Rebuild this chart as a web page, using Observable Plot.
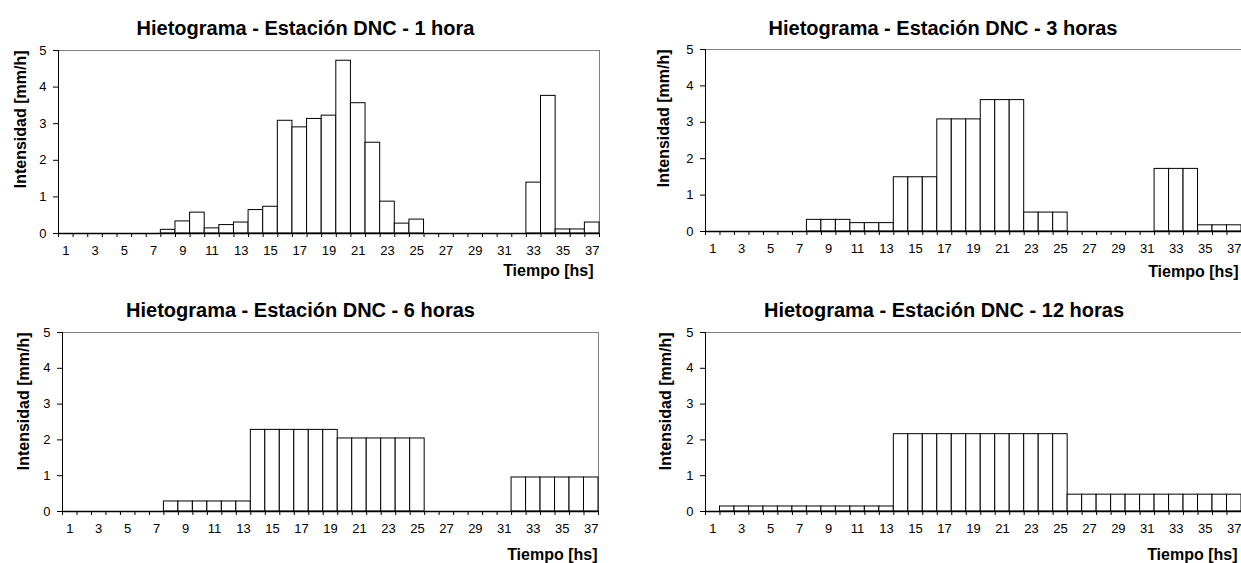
<!DOCTYPE html>
<html>
<head>
<meta charset="utf-8">
<script src="https://cdn.jsdelivr.net/npm/d3@7"></script>
<script src="https://cdn.jsdelivr.net/npm/@observablehq/plot@0.6"></script>
<style>
html, body { margin: 0; padding: 0; background: #fff; }
#chart { position: relative; width: 1241px; height: 563px; overflow: hidden; background: #fff; }
#chart > div { position: absolute; }
#chart svg { overflow: visible; }
</style>
</head>
<body>
<div id="chart"></div>
<script>
// ---- data ----
const hours = d3.range(1, 38); // time categories 1..37
const xTickLabels = [1, 3, 5, 7, 9, 11, 13, 15, 17, 19, 21, 23, 25, 27, 29, 31, 33, 35, 37];
const yTicks = [0, 1, 2, 3, 4, 5];
const titles = [
  "Hietograma - Estación DNC - 1 hora",
  "Hietograma - Estación DNC - 3 horas",
  "Hietograma - Estación DNC - 6 horas",
  "Hietograma - Estación DNC - 12 horas"
];
const yLabel = "Intensidad [mm/h]";
const xLabel = "Tiempo [hs]";

const int1h = [0, 0, 0, 0, 0, 0, 0, 0.10, 0.33, 0.57, 0.14, 0.23, 0.30, 0.64, 0.73, 3.08, 2.90, 3.13, 3.22,
  4.72, 3.56, 2.48, 0.87, 0.27, 0.38, 0, 0, 0, 0, 0, 0, 0, 1.39, 3.76, 0.11, 0.11, 0.30];
const int3h = [0, 0, 0, 0, 0, 0, 0, 0.32, 0.32, 0.32, 0.23, 0.23, 0.23, 1.49, 1.49, 1.49, 3.08, 3.08, 3.08,
  3.61, 3.61, 3.61, 0.52, 0.52, 0.52, 0, 0, 0, 0, 0, 0, 1.72, 1.72, 1.72, 0.17, 0.17, 0.17];
const int6h = [0, 0, 0, 0, 0, 0, 0, 0.28, 0.28, 0.28, 0.28, 0.28, 0.28, 2.28, 2.28, 2.28, 2.28, 2.28, 2.28,
  2.04, 2.04, 2.04, 2.04, 2.04, 2.04, 0, 0, 0, 0, 0, 0, 0.95, 0.95, 0.95, 0.95, 0.95, 0.95];
const int12h = [0, 0.14, 0.14, 0.14, 0.14, 0.14, 0.14, 0.14, 0.14, 0.14, 0.14, 0.14, 0.14, 2.16, 2.16, 2.16, 2.16,
  2.16, 2.16, 2.16, 2.16, 2.16, 2.16, 2.16, 2.16, 0.47, 0.47, 0.47, 0.47, 0.47, 0.47, 0.47, 0.47, 0.47, 0.47, 0.47, 0.47];

// ---- layout (absolute page coordinates) ----
const panels = [
  {values: int1h, title: titles[0], left: 0, top: 0, width: 620, height: 280, mL: 58, mR: 21, mT: 50, mB: 47,
   titleX: 305, titleY: 28, yLabX: 20, xLabR: 593, xLabY: 270},
  {values: int3h, title: titles[1], left: 620, top: 0, width: 621, height: 280, mL: 85, mR: 0, mT: 49, mB: 49,
   titleX: 942.5, titleY: 28.5, yLabX: 663, xLabR: 1238, xLabY: 271},
  {values: int6h, title: titles[2], left: 0, top: 280, width: 620, height: 283, mL: 62, mR: 22, mT: 52, mB: 52,
   titleX: 300, titleY: 310.5, yLabX: 23, xLabR: 597, xLabY: 554},
  {values: int12h, title: titles[3], left: 620, top: 280, width: 621, height: 283, mL: 85, mR: 0, mT: 52, mB: 52,
   titleX: 943.5, titleY: 310.5, yLabX: 665, xLabR: 1237, xLabY: 554}
];

const boundaries = hours.map(h => h - 0.5).concat([hours[hours.length - 1] + 0.5]);
const font = "'Liberation Sans', Arial, Helvetica, sans-serif";
const container = document.getElementById("chart");

for (const p of panels) {
  const data = hours.map((h, i) => ({hour: h, value: p.values[i]}));
  const fx = p.left + p.mL, fy = p.top + p.mT;
  const fr = p.left + p.width - p.mR, fb = p.top + p.height - p.mB;
  const svg = Plot.plot({
    width: p.width,
    height: p.height,
    marginLeft: p.mL, marginRight: p.mR, marginTop: p.mT, marginBottom: p.mB,
    x: {domain: [0.5, 37.5]},
    y: {domain: [0, 5]},
    style: {fontFamily: font, fontSize: "13px", color: "#000", background: "transparent", overflow: "visible"},
    marks: [
      Plot.ruleY([5], {stroke: "#808080", strokeWidth: 1}),
      Plot.ruleX([37.5], {stroke: "#808080", strokeWidth: 1}),
      Plot.rectY(data.filter(d => d.value > 0), {
        x1: d => d.hour - 0.5, x2: d => d.hour + 0.5, y1: 0, y2: "value",
        fill: "white", stroke: "black", strokeWidth: 1
      }),
      Plot.axisY({ticks: yTicks, tickSize: 5, tickPadding: 7, tickFormat: d3.format("d"), label: null, fontSize: 13}),
      Plot.axisX({ticks: boundaries, tickSize: 4, tickFormat: () => "", label: null}),
      Plot.axisX({ticks: xTickLabels, tickSize: 0, tickPadding: 12, tickFormat: d3.format("d"), label: null, fontSize: 13}),
      Plot.ruleX([0.5], {stroke: "black", strokeWidth: 1}),
      Plot.ruleY([0], {stroke: "black", strokeWidth: 1.5}),
      Plot.text([p.title], {frameAnchor: "top-left", dx: p.titleX - fx, dy: p.titleY - fy,
        fontSize: 20, fontWeight: "bold", textAnchor: "middle", lineAnchor: "middle"}),
      Plot.text([yLabel], {frameAnchor: "top-left", dx: p.yLabX - fx, dy: 0, rotate: -90,
        fontSize: 16, fontWeight: "bold", textAnchor: "end", lineAnchor: "middle"}),
      Plot.text([xLabel], {frameAnchor: "bottom-right", dx: p.xLabR - fr, dy: p.xLabY - fb,
        fontSize: 16, fontWeight: "bold", textAnchor: "end", lineAnchor: "middle"})
    ]
  });
  const wrap = document.createElement("div");
  wrap.style.left = p.left + "px";
  wrap.style.top = p.top + "px";
  wrap.style.width = p.width + "px";
  wrap.style.height = p.height + "px";
  wrap.appendChild(svg);
  container.appendChild(wrap);
}
</script>
</body>
</html>
